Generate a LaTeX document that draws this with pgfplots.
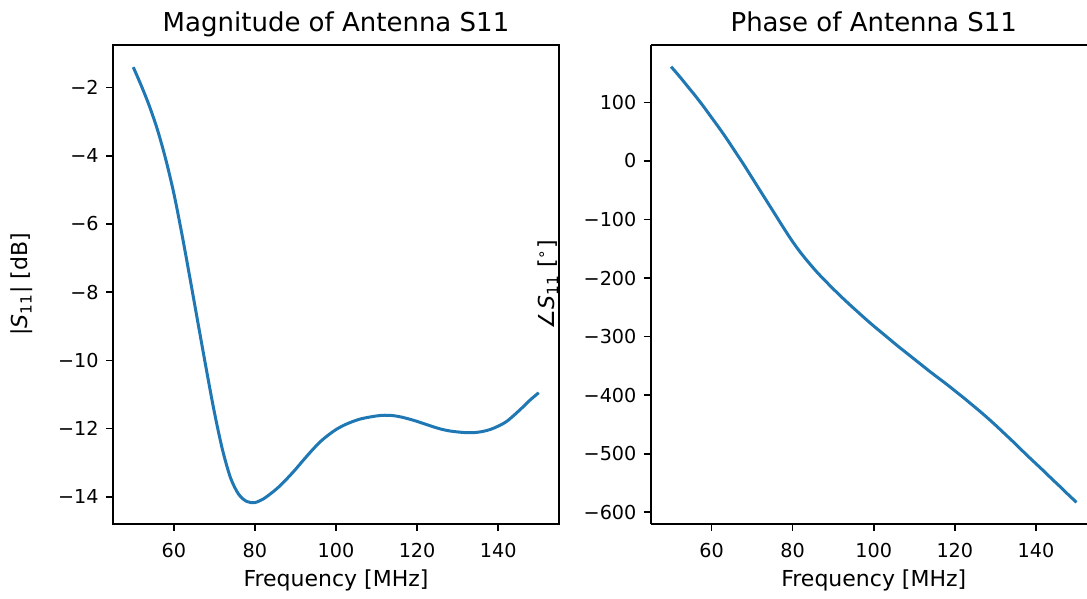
\documentclass[border=0pt]{standalone}
\usepackage{fontspec}
\setmainfont{DejaVu Sans}
\usepackage{pgfplots}
\pgfplotsset{compat=1.18}
\definecolor{mplblue}{HTML}{1F77B4}

% tick label with a real minus sign, set in the text font
\newcommand{\mpltick}{%
  \pgfmathtruncatemacro\tv{round(\tick)}%
  \ifnum\tv<0 −\fi
  \pgfmathtruncatemacro\ta{abs(\tv)}\ta}

\pgfplotsset{
  mplline/.style={mplblue, line width=1.5pt, no markers, smooth},
  mplaxis/.style={
    scale only axis, height=239.5pt, anchor=south west,
    xmin=45,
    xtick={60,80,...,140},
    tick align=outside, tick pos=left,
    major tick length=3.5pt,
    every tick/.style={black, line width=0.8pt},
    axis line style={black, line width=0.8pt},
    xticklabel={\mpltick}, yticklabel={\mpltick},
    xticklabel style={font=\fontsize{9.6}{11}\selectfont, anchor=base, inner sep=0pt, yshift=-13.5pt},
    yticklabel style={font=\fontsize{9.6}{11}\selectfont, anchor=east, inner sep=0pt, xshift=-3.5pt},
    every axis title shift=0pt,
    title style={font=\fontsize{13}{15}\selectfont, anchor=base, inner sep=0pt},
    xlabel style={font=\fontsize{11}{13}\selectfont, anchor=base, inner sep=0pt},
    ylabel style={font=\fontsize{11}{13}\selectfont, anchor=center, inner sep=0pt},
    xlabel={Frequency [MHz]},
  }
}

\begin{document}
\begin{tikzpicture}
\useasboundingbox (0,0) rectangle (543.5pt,299.5pt);

\begin{axis}[mplaxis, at={(56.5pt,37.5pt)}, width=223pt,
  xmax=155,
  ymin=-14.8, ymax=-0.75,
  ytick={-14,-12,...,-2},
  title={Magnitude of Antenna S11},
  title style={at={(axis description cs:0.5,1)}, yshift=6.75pt},
  xlabel style={at={(axis description cs:0.5,-0.1315)}},
  ylabel={|\textit{S}\textsubscript{11}| [dB]},
  ylabel style={at={(axis description cs:-0.204,0.5)}},
]
\addplot[mplline] coordinates {
  (50,-1.40) (52,-1.95) (54,-2.55) (56,-3.25) (58,-4.10) (60,-5.10)
  (62,-6.30) (64,-7.60) (66,-8.93) (68,-10.25) (70,-11.52) (72,-12.62)
  (74,-13.45) (76,-13.93) (78,-14.14) (80,-14.17) (82,-14.07) (84,-13.90)
  (86,-13.70) (88,-13.46) (90,-13.20) (92,-12.92) (94,-12.65) (96,-12.40)
  (98,-12.20) (100,-12.03) (102,-11.90) (104,-11.80) (106,-11.72) (108,-11.67)
  (110,-11.63) (112,-11.61) (114,-11.62) (116,-11.66) (118,-11.72) (120,-11.79)
  (122,-11.87) (124,-11.95) (126,-12.02) (128,-12.07) (130,-12.10) (132,-12.12)
  (134,-12.12) (136,-12.09) (138,-12.03) (140,-11.93) (142,-11.80) (144,-11.60)
  (146,-11.38) (148,-11.15) (150,-10.95)
};
\end{axis}

% the right panel runs past the page edge in the reference: no right spine
\begin{axis}[mplaxis, at={(325.4pt,37.5pt)}, width=218.1pt,
  xmax=152.6,
  axis x line*=box, axis y line*=left,
  ymin=-620, ymax=198,
  ytick={-600,-500,...,100},
  title={Phase of Antenna S11},
  title style={at={(axis description cs:0.5112,1)}, yshift=6.75pt},
  xlabel style={at={(axis description cs:0.5112,-0.1315)}},
  ylabel={∠\textit{S}\textsubscript{11} [\textsuperscript{∘}]},
  ylabel style={at={(axis description cs:-0.2357,0.5)}},
]
\addplot[mplline] coordinates {
  (50,161) (52,145) (54,128) (56,111) (58,93) (60,74)
  (62,55) (64,35) (66,14) (68,-7) (70,-29) (72,-51)
  (74,-73) (76,-95) (78,-117) (80,-138) (82,-157) (84,-174)
  (86,-190) (88,-204.5) (90,-218.5) (92,-232) (94,-245) (96,-257.5)
  (98,-270) (100,-282) (102,-293.5) (104,-305) (106,-316.5) (108,-327.5)
  (110,-338.5) (112,-349.5) (114,-360.5) (116,-371) (118,-381.5) (120,-392.5)
  (122,-403.5) (124,-415) (126,-426.5) (128,-438.5) (130,-451) (132,-464)
  (134,-477) (136,-490.5) (138,-504) (140,-517) (142,-530) (144,-543.5)
  (146,-556.5) (148,-570) (150,-583)
};
\end{axis}
\end{tikzpicture}
\end{document}
